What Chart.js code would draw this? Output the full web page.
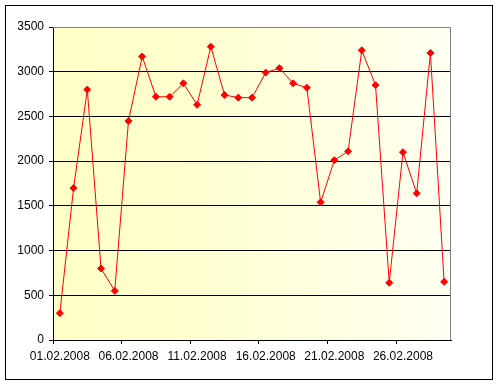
<!DOCTYPE html>
<html lang="en">
  <head>
    <meta charset="UTF-8" />
    <title>Chart</title>
    <style>
      * {
        box-sizing: border-box;
        margin: 0;
        padding: 0;
      }
      html,
      body {
        width: 498px;
        height: 384px;
        background: white;
        overflow: hidden;
      }
      .chart__container {
        position: relative;
        width: 498px;
        height: 384px;
      }
    </style>
  </head>
  <body>
    <div class="chart__container">
      <canvas id="dailyChart"></canvas>
    </div>
    <script src="https://cdn.jsdelivr.net/npm/chart.js"></script>
    <script>
      const dayLabels = [
        "01.02.2008", "02.02.2008", "03.02.2008", "04.02.2008", "05.02.2008",
        "06.02.2008", "07.02.2008", "08.02.2008", "09.02.2008", "10.02.2008",
        "11.02.2008", "12.02.2008", "13.02.2008", "14.02.2008", "15.02.2008",
        "16.02.2008", "17.02.2008", "18.02.2008", "19.02.2008", "20.02.2008",
        "21.02.2008", "22.02.2008", "23.02.2008", "24.02.2008", "25.02.2008",
        "26.02.2008", "27.02.2008", "28.02.2008", "29.02.2008",
      ];
      const dayValues = [
        300, 1700, 2800, 800, 550, 2450, 3170, 2720, 2720, 2870,
        2630, 3280, 2740, 2710, 2710, 2990, 3040, 2870, 2820, 1540,
        2010, 2110, 3240, 2850, 640, 2100, 1640, 3210, 650,
      ];
      const yMin = 0;
      const yMax = 3500;
      const yStep = 500;
      const labelEvery = 5;

      // plot background + outer frame + top/right plot border
      const decorPlugin = {
        id: "decor",
        beforeDraw(chart) {
          const { ctx, chartArea } = chart;
          const g = ctx.createLinearGradient(chartArea.left, 0, chartArea.right, 0);
          g.addColorStop(0, "#ffffc6");
          g.addColorStop(0.35, "#ffffd0");
          g.addColorStop(1, "#fffff2");
          ctx.save();
          ctx.fillStyle = g;
          ctx.fillRect(chartArea.left, chartArea.top, chartArea.right - chartArea.left, chartArea.bottom - chartArea.top);
          ctx.restore();
        },
        afterDraw(chart) {
          const { ctx, chartArea } = chart;
          ctx.save();
          ctx.strokeStyle = "#808080";
          ctx.lineWidth = 1;
          ctx.beginPath();
          ctx.moveTo(chartArea.left, chartArea.top + 0.5);
          ctx.lineTo(chartArea.right - 0.5, chartArea.top + 0.5);
          ctx.lineTo(chartArea.right - 0.5, chartArea.bottom);
          ctx.stroke();
          ctx.strokeStyle = "#000";
          ctx.strokeRect(5.5, 5.5, 487, 374);
          ctx.restore();
        },
      };

      document.addEventListener("DOMContentLoaded", function () {
        const ctx = document.getElementById("dailyChart").getContext("2d");
        Chart.defaults.font.family = "'Liberation Sans', Arial, sans-serif";
        Chart.defaults.font.size = 12;
        Chart.defaults.color = "#000";

        new Chart(ctx, {
          type: "line",
          data: {
            labels: dayLabels,
            datasets: [
              {
                data: dayValues,
                borderColor: "#ff0000",
                backgroundColor: "#ff0000",
                borderWidth: 1,
                tension: 0,
                pointStyle: "rectRot",
                pointRadius: 3.5,
                pointBorderWidth: 1,
                fill: false,
              },
            ],
          },
          options: {
            responsive: true,
            maintainAspectRatio: false,
            animation: false,
            layout: {
              padding: { top: 27, right: 47, bottom: 0, left: 0 },
            },
            plugins: {
              legend: { display: false },
              tooltip: { enabled: false },
            },
            scales: {
              x: {
                offset: true,
                afterFit: (scale) => {
                  scale.height = 44;
                },
                grid: {
                  offset: true,
                  drawOnChartArea: false,
                  tickLength: 4,
                  color: (c) => (c.index % labelEvery === 0 ? "#000" : "rgba(0,0,0,0)"),
                },
                border: { color: "#000", width: 1 },
                ticks: {
                  autoSkip: false,
                  maxRotation: 0,
                  padding: 5,
                  callback: function (value, index) {
                    return index % labelEvery === 0 ? dayLabels[index] : "";
                  },
                },
              },
              y: {
                min: yMin,
                max: yMax,
                afterFit: (scale) => {
                  scale.width = 53;
                },
                grid: {
                  tickLength: 4,
                  tickColor: "#000",
                  color: (c) => (c.tick && c.tick.value === yMax ? "rgba(0,0,0,0)" : "#000"),
                },
                border: { color: "#000", width: 1 },
                ticks: {
                  stepSize: yStep,
                  padding: 5,
                  callback: (value) => String(value),
                },
              },
            },
          },
          plugins: [decorPlugin],
        });
      });
    </script>
  </body>
</html>
